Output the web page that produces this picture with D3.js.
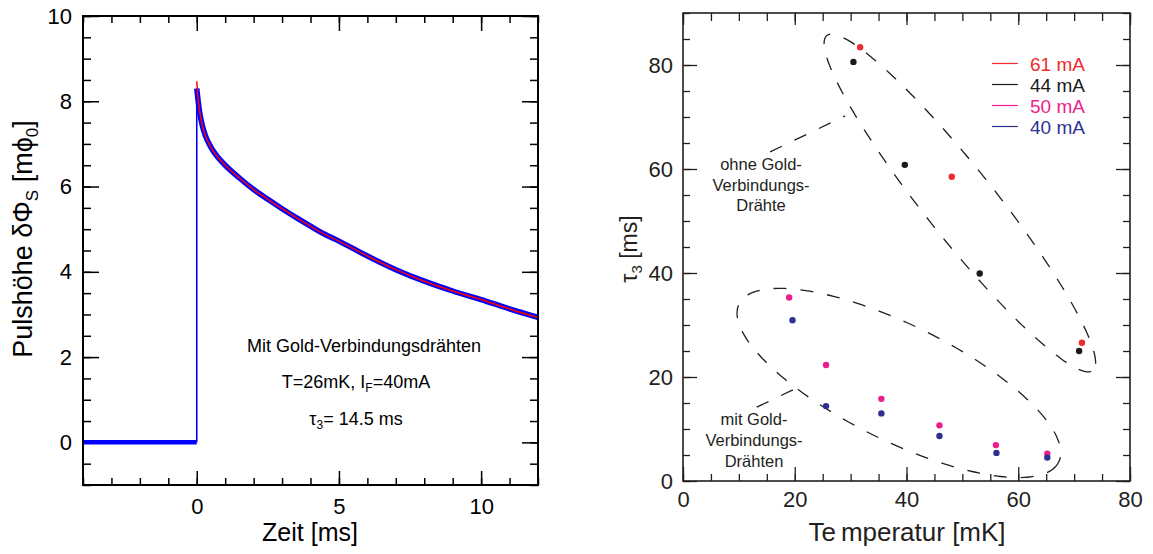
<!DOCTYPE html>
<html><head><meta charset="utf-8">
<script src="https://cdn.jsdelivr.net/npm/d3@7"></script>
<style>body{margin:0;background:#fff}svg{display:block;font-family:"Liberation Sans",Arial,sans-serif}</style>
</head><body><svg id="c" width="1153" height="554"></svg>
<script>
// ---------- Left panel data ----------
const pulseTime  = [-4, -3, -2, -1, 0, 0, 0.05, 0.1, 0.2, 0.3, 0.5, 0.75, 1, 1.5, 2, 2.5, 3, 3.5, 4, 4.5, 5, 6, 7, 8, 9, 10, 11, 12];
const pulseValue = [0, 0, 0, 0, 0, 8.3, 8.0, 7.75, 7.42, 7.2, 6.92, 6.68, 6.5, 6.2, 5.93, 5.7, 5.48, 5.27, 5.07, 4.88, 4.72, 4.37, 4.05, 3.78, 3.55, 3.35, 3.13, 2.93];
const fitTime  = [0, 0.05, 0.1, 0.2, 0.3, 0.5, 0.75, 1, 1.5, 2, 2.5, 3, 3.5, 4, 4.5, 5, 6, 7, 8, 9, 10, 11, 12];
const fitValue = [8.47, 8.05, 7.78, 7.43, 7.2, 6.92, 6.68, 6.5, 6.2, 5.93, 5.7, 5.48, 5.27, 5.07, 4.88, 4.72, 4.37, 4.05, 3.78, 3.55, 3.35, 3.13, 2.93];
const leftXTicks = [0, 5, 10];
const leftYTicks = [0, 2, 4, 6, 8, 10];

// ---------- Right panel data ----------
const seriesNames = ["61 mA", "44 mA", "50 mA", "40 mA"];
const seriesColors = ["#ee2a2e", "#1a1a1a", "#ec1e8c", "#2e3192"];
const temp61 = [31.7, 48.1, 71.4];             const tau61 = [83.4, 58.5, 26.6];
const temp44 = [30.5, 39.7, 53.1, 70.9];       const tau44 = [80.6, 60.8, 39.9, 25.0];
const temp50 = [19.0, 25.6, 35.5, 45.9, 56.0, 65.2]; const tau50 = [35.3, 22.3, 15.8, 10.7, 6.9, 5.25];
const temp40 = [19.6, 25.6, 35.5, 45.9, 56.1, 65.2]; const tau40 = [30.9, 14.4, 13.0, 8.65, 5.4, 4.5];
const rightXTicks = [0, 20, 40, 60, 80];
const rightYTicks = [0, 20, 40, 60, 80];
// annotation ellipses in data units: centre, major half-axis vector, minor half-axis vector
const ellipseUpper = {c:[49.55, 53.46], u:[23.8, -32.2], v:[-4.9, -4.2]};
const ellipseLower = {c:[38.64, 18.85], u:[28.6, -15.2], v:[-4.6, -10.0]};
const leaderUpper = [[15.6, 63.3], [29.0, 70.2]];
const leaderLower = [[13.2, 14.2], [20.0, 17.7]];

const svg = d3.select("#c");

// ================= LEFT PANEL =================
const lx = d3.scaleLinear().domain([-4, 12]).range([83, 538]);
const ly = d3.scaleLinear().domain([-1, 10]).range([485, 16]);
const L = svg.append("g");

function ticksAxis(g, axisFn, scale, vals, size, labels, pad, fs) {
  const a = axisFn(scale).tickValues(vals).tickSizeInner(size).tickSizeOuter(0).tickPadding(pad);
  if (!labels) a.tickFormat("");
  const gg = g.append("g").call(a);
  gg.select(".domain").remove();
  gg.selectAll("text").style("font-size", fs + "px").attr("fill", "#000").style("font-family", '"Liberation Sans",Arial,sans-serif');
  return gg;
}
const lxMinor = d3.range(-4, 12.01, 1), lyMinor = d3.range(-1, 10.01, 0.5);
let g;
g = L.append("g").attr("transform", "translate(0,485)");
ticksAxis(g, d3.axisBottom, lx, lxMinor, -7, false, 0, 20);
ticksAxis(g, d3.axisBottom, lx, leftXTicks, -14, true, 13, 22);
g = L.append("g").attr("transform", "translate(0,16)");
ticksAxis(g, d3.axisTop, lx, lxMinor, -7, false, 0, 20);
ticksAxis(g, d3.axisTop, lx, leftXTicks, -15, false, 0, 20);
g = L.append("g").attr("transform", "translate(83,0)");
ticksAxis(g, d3.axisLeft, ly, lyMinor, -8, false, 0, 20);
ticksAxis(g, d3.axisLeft, ly, leftYTicks, -16, true, 11, 22);
g = L.append("g").attr("transform", "translate(538,0)");
ticksAxis(g, d3.axisRight, ly, lyMinor, -8, false, 0, 20);
ticksAxis(g, d3.axisRight, ly, leftYTicks, -16, false, 0, 20);
L.selectAll(".tick line").attr("stroke", "#000").attr("stroke-width", 1.5);

// pulse (measured)
const pulse = pulseTime.map((t, i) => [t, pulseValue[i]]);
const jumpIdx = pulseTime.findIndex((t, i) => i > 0 && t === pulseTime[i - 1]);
const lineM = d3.line().x(d => lx(d[0])).y(d => ly(d[1])).curve(d3.curveMonotoneX);
const lineL = d3.line().x(d => lx(d[0])).y(d => ly(d[1]));
L.append("path").attr("d", lineL(pulse.slice(0, jumpIdx))).attr("fill", "none").attr("stroke", "#0000ff").attr("stroke-width", 4.5);
L.append("path").attr("d", lineL(pulse.slice(jumpIdx - 1, jumpIdx + 1))).attr("fill", "none").attr("stroke", "#0000ff").attr("stroke-width", 1.6);
L.append("path").attr("d", lineM(pulse.slice(jumpIdx))).attr("fill", "none").attr("stroke", "#0000ff").attr("stroke-width", 5.5);
// fit
const fit = fitTime.map((t, i) => [t, fitValue[i]]);
L.append("path").attr("d", lineM(fit)).attr("fill", "none").attr("stroke", "#ff0000").attr("stroke-width", 1.5);

L.append("rect").attr("x", 83).attr("y", 16).attr("width", 455).attr("height", 469)
  .attr("fill", "none").attr("stroke", "#000").attr("stroke-width", 2);

// labels
L.append("text").attr("transform", "translate(32,239) rotate(-90)").attr("text-anchor", "middle")
  .style("font-size", "27px")
  .html('Pulshöhe δΦ<tspan dy="6" font-size="17">S</tspan><tspan dy="-6"> [mϕ</tspan><tspan dy="6" font-size="17">0</tspan><tspan dy="-6">]</tspan>');
L.append("text").attr("x", 310).attr("y", 541).attr("text-anchor", "middle").style("font-size", "25px").text("Zeit [ms]");
L.append("text").attr("x", 364).attr("y", 352).attr("text-anchor", "middle").style("font-size", "18px").text("Mit Gold-Verbindungsdrähten");
L.append("text").attr("x", 356).attr("y", 388).attr("text-anchor", "middle").style("font-size", "18px")
  .html('T=26mK, I<tspan dy="4" font-size="12">F</tspan><tspan dy="-4">=40mA</tspan>');
L.append("text").attr("x", 356).attr("y", 425).attr("text-anchor", "middle").style("font-size", "18px")
  .html('τ<tspan dy="4" font-size="12">3</tspan><tspan dy="-4">= 14.5 ms</tspan>');

// ================= RIGHT PANEL =================
const rx = d3.scaleLinear().domain([0, 80]).range([683, 1130]);
const ry = d3.scaleLinear().domain([0, 90]).range([481, 13]);
const R = svg.append("g");
const rxMinor = d3.range(0, 80.01, 5), ryMinor = d3.range(0, 90.01, 5);
g = R.append("g").attr("transform", "translate(0,481)");
ticksAxis(g, d3.axisBottom, rx, rxMinor, -7, false, 0, 20);
ticksAxis(g, d3.axisBottom, rx, rightXTicks, -14, true, 10, 22);
g = R.append("g").attr("transform", "translate(0,13)");
ticksAxis(g, d3.axisTop, rx, rxMinor, -8, false, 0, 20);
ticksAxis(g, d3.axisTop, rx, rightXTicks, -12, false, 0, 20);
g = R.append("g").attr("transform", "translate(683,0)");
ticksAxis(g, d3.axisLeft, ry, ryMinor, -7, false, 0, 20);
ticksAxis(g, d3.axisLeft, ry, rightYTicks, -14, true, 10, 22);
g = R.append("g").attr("transform", "translate(1130,0)");
ticksAxis(g, d3.axisRight, ry, ryMinor, -7, false, 0, 20);
ticksAxis(g, d3.axisRight, ry, rightYTicks, -14, false, 0, 20);
R.selectAll(".tick line").attr("stroke", "#231f20").attr("stroke-width", 1.3);
R.selectAll(".tick text").attr("fill", "#231f20");

// ellipses
function ellipsePath(e) {
  const pts = d3.range(0, 360, 3).map(a => {
    const t = a * Math.PI / 180;
    return [rx(e.c[0] + e.u[0] * Math.cos(t) + e.v[0] * Math.sin(t)),
            ry(e.c[1] + e.u[1] * Math.cos(t) + e.v[1] * Math.sin(t))];
  });
  return d3.line().curve(d3.curveCardinalClosed)(pts);
}
[ellipseUpper, ellipseLower].forEach(e => {
  R.append("path").attr("d", ellipsePath(e)).attr("fill", "none").attr("stroke", "#231f20")
    .attr("stroke-width", 1.3).attr("stroke-dasharray", "13,14");
});
[leaderUpper, leaderLower].forEach(l => {
  R.append("path").attr("d", d3.line().x(d => rx(d[0])).y(d => ry(d[1]))(l)).attr("fill", "none")
    .attr("stroke", "#231f20").attr("stroke-width", 1.3).attr("stroke-dasharray", "13,14");
});

// points
const series = [[temp61, tau61], [temp44, tau44], [temp50, tau50], [temp40, tau40]];
series.forEach((s, k) => {
  R.append("g").selectAll("circle").data(s[0].map((t, i) => [t, s[1][i]])).join("circle")
    .attr("cx", d => rx(d[0])).attr("cy", d => ry(d[1])).attr("r", 3.2).attr("fill", seriesColors[k]);
});

// legend
seriesNames.forEach((n, k) => {
  const y = 63.5 + k * 21;
  R.append("line").attr("x1", 992).attr("x2", 1018).attr("y1", y).attr("y2", y)
    .attr("stroke", seriesColors[k]).attr("stroke-width", 1.2);
  R.append("text").attr("x", 1030).attr("y", y + 7).style("font-size", "19px").attr("fill", seriesColors[k]).text(n);
});

R.append("rect").attr("x", 683).attr("y", 13).attr("width", 447).attr("height", 468)
  .attr("fill", "none").attr("stroke", "#231f20").attr("stroke-width", 1.6);

// annotation texts
const annU = ["ohne Gold-", "Verbindungs-", "Drähte"];
annU.forEach((t, i) => R.append("text").attr("x", 761).attr("y", 170 + i * 20.5).attr("text-anchor", "middle")
  .style("font-size", "16.5px").attr("fill", "#231f20").text(t));
const annL = ["mit Gold-", "Verbindungs-", "Drähten"];
annL.forEach((t, i) => R.append("text").attr("x", 754).attr("y", 425 + i * 21).attr("text-anchor", "middle")
  .style("font-size", "16.5px").attr("fill", "#231f20").text(t));

// axis titles
R.append("text").attr("transform", "translate(637,249) rotate(-90)").attr("text-anchor", "middle")
  .style("font-size", "23px").attr("fill", "#231f20")
  .html('τ<tspan dy="5" font-size="15">3</tspan><tspan dy="-5"> [ms]</tspan>');
R.append("text").attr("x", 907).attr("y", 541).attr("text-anchor", "middle").style("font-size", "26px").attr("fill", "#231f20")
  .html('Te<tspan dx="5">mperatur [mK]</tspan>');
</script></body></html>
